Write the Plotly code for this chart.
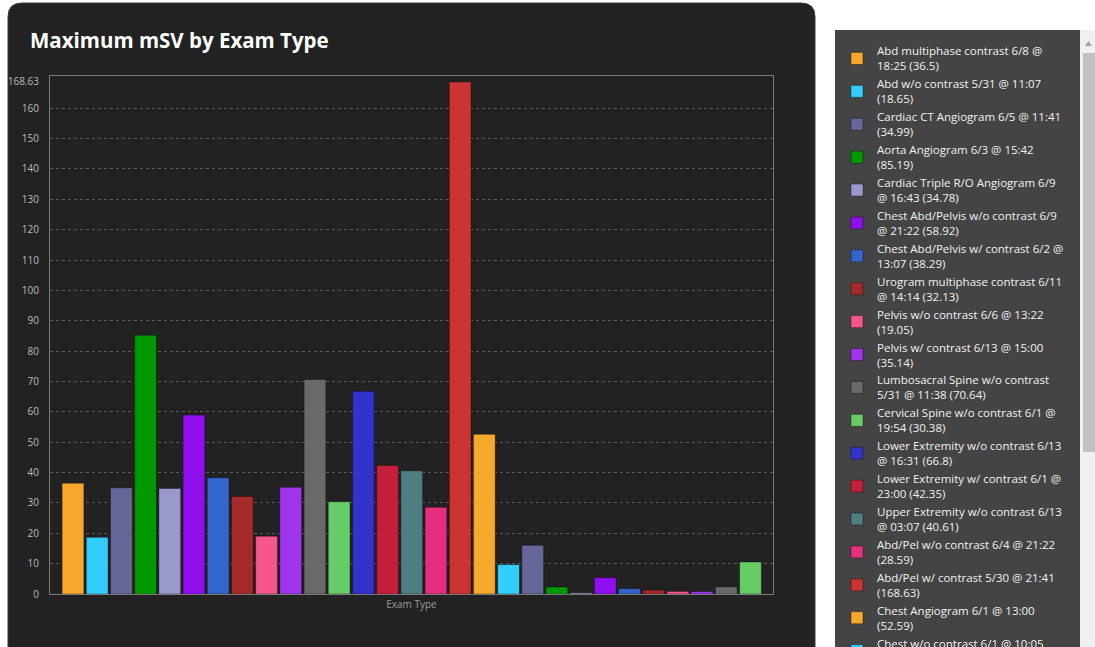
import plotly.graph_objects as go

# ---------------- data ----------------
exam_labels = [
    "Abd multiphase contrast 6/8 @ 18:25",
    "Abd w/o contrast 5/31 @ 11:07",
    "Cardiac CT Angiogram 6/5 @ 11:41",
    "Aorta Angiogram 6/3 @ 15:42",
    "Cardiac Triple R/O Angiogram 6/9 @ 16:43",
    "Chest Abd/Pelvis w/o contrast 6/9 @ 21:22",
    "Chest Abd/Pelvis w/ contrast 6/2 @ 13:07",
    "Urogram multiphase contrast 6/11 @ 14:14",
    "Pelvis w/o contrast 6/6 @ 13:22",
    "Pelvis w/ contrast 6/13 @ 15:00",
    "Lumbosacral Spine w/o contrast 5/31 @ 11:38",
    "Cervical Spine w/o contrast 6/1 @ 19:54",
    "Lower Extremity w/o contrast 6/13 @ 16:31",
    "Lower Extremity w/ contrast 6/1 @ 23:00",
    "Upper Extremity w/o contrast 6/13 @ 03:07",
    "Abd/Pel w/o contrast 6/4 @ 21:22",
    "Abd/Pel w/ contrast 5/30 @ 21:41",
    "Chest Angiogram 6/1 @ 13:00",
    "Chest w/o contrast 6/1 @ 10:05",
    "Chest w/ contrast 6/12 @ 09:14",
    "Head w/o contrast 6/2 @ 08:30",
    "Sinus w/o contrast 6/7 @ 10:12",
    "Head w/ contrast 6/10 @ 14:48",
    "Neck w/o contrast 6/4 @ 16:05",
    "Neck w/ contrast 6/11 @ 11:20",
    "Orbits w/o contrast 6/8 @ 09:02",
    "Temporal Bones w/o contrast 6/3 @ 12:40",
    "Thoracic Spine w/o contrast 6/6 @ 17:15",
    "Chest Low Dose Screening 6/12 @ 15:33",
]
values = [36.5, 18.65, 34.99, 85.19, 34.78, 58.92, 38.29, 32.13, 19.05, 35.14,
          70.64, 30.38, 66.8, 42.35, 40.61, 28.59, 168.63, 52.59,
          9.7, 16.05, 2.3, 0.4, 5.4, 1.75, 1.3, 0.85, 0.8, 2.35, 10.55]
# number of words on the first line of each wrapped legend label
wrap_words = [5, 6, 6, 5, 5, 5, 6, 4, 6, 6, 4, 6, 5, 6, 5, 6, 6, 5, 6,
              6, 6, 6, 6, 6, 6, 6, 5, 5, 5]
colors = ["#F5A82B", "#33CCFF", "#666699", "#009900", "#9999CC", "#8F10EC",
          "#3366CC", "#A52A2A", "#F5578A", "#A035EE", "#6A6A6A", "#66CC66",
          "#3333CC", "#C41F3B", "#4E7D82", "#E52E7D", "#CC3333", "#F5A82B",
          "#33CCFF", "#666699", "#009900", "#9999CC", "#8F10EC", "#3366CC",
          "#A52A2A", "#F5578A", "#A035EE", "#6A6A6A", "#66CC66"]
y_ticks = [0, 10, 20, 30, 40, 50, 60, 70, 80, 90, 100, 110, 120, 130, 140, 150, 160]
y_max_label = 168.63

# ---------------- layout geometry ----------------
W, H = 1095, 647
L, R, T, B = 50, 773, 76, 594


def px(x):
    return (x - L) / (R - L)


def py(y):
    return (B - y) / (B - T)


def wrap(text, n):
    words = text.split(" ")
    return " ".join(words[:n]) + "<br>" + " ".join(words[n:])


fig = go.Figure()
for i, (lab, v, c, n) in enumerate(zip(exam_labels, values, colors, wrap_words)):
    fig.add_trace(go.Bar(
        x=[i], y=[v], width=0.9, name=wrap(f"{lab} ({v})", n),
        marker=dict(color=c, line=dict(color="rgba(0,0,0,0.35)", width=1)),
        hovertemplate=f"{lab}: %{{y}}<extra></extra>",
    ))

# invisible trace to carry the top tick label on an overlaying axis
fig.add_trace(go.Scatter(x=[0], y=[0], yaxis="y2", mode="markers",
                         marker=dict(opacity=0), showlegend=False, hoverinfo="skip"))

# card background (rounded rectangle)
x0, x1, y0, y1, r = 8, 815, 3, 680, 14
card = (f"M {px(x0 + r)},{py(y0)} L {px(x1 - r)},{py(y0)} "
        f"Q {px(x1)},{py(y0)} {px(x1)},{py(y0 + r)} L {px(x1)},{py(y1)} "
        f"L {px(x0)},{py(y1)} L {px(x0)},{py(y0 + r)} "
        f"Q {px(x0)},{py(y0)} {px(x0 + r)},{py(y0)} Z")
shapes = [
    dict(type="path", path=card, xref="paper", yref="paper", layer="below",
         fillcolor="#222222", line=dict(color="#3a3a3a", width=1)),
    # legend panel
    dict(type="rect", xref="paper", yref="paper", layer="below",
         x0=px(835), x1=px(1080), y0=py(30), y1=py(700),
         fillcolor="#444444", line=dict(width=0)),
    # scrollbar track
    dict(type="rect", xref="paper", yref="paper", layer="below",
         x0=px(1080), x1=px(1096), y0=py(30), y1=py(700),
         fillcolor="#F0F0F0", line=dict(width=0)),
    # scrollbar thumb
    dict(type="rect", xref="paper", yref="paper", layer="below",
         x0=px(1083), x1=px(1095), y0=py(53), y1=py(452),
         fillcolor="#C1C1C1", line=dict(width=0)),
    # up arrow
    dict(type="path", xref="paper", yref="paper", layer="below",
         path=f"M {px(1085)},{py(46)} L {px(1092)},{py(46)} L {px(1088.5)},{py(41)} Z",
         fillcolor="#A3A3A3", line=dict(width=0)),
]

fig.update_layout(
    width=W, height=H,
    margin=dict(l=L, r=W - R, t=T, b=H - B, autoexpand=False),
    paper_bgcolor="white", plot_bgcolor="rgba(0,0,0,0)",
    barmode="overlay",
    font=dict(family="Open Sans, sans-serif"),
    title=dict(text="<b>Maximum mSV by Exam Type</b>", xref="container", yref="container",
               x=30 / W, xanchor="left", y=1 - 41 / H, yanchor="middle",
               font=dict(size=20.5, color="white", family="Open Sans, sans-serif")),
    xaxis=dict(range=[-0.95, 28.93], showticklabels=False, ticks="", showgrid=False,
               zeroline=False, showline=True, linecolor="#7a7a7a", linewidth=1, mirror=True,
               title=dict(text="Exam Type", standoff=6, font=dict(size=10, color="#9a9a9a")),
               automargin=False),
    yaxis=dict(range=[0, 170.6], tickvals=y_ticks, ticktext=[str(t) for t in y_ticks],
               showgrid=True, gridcolor="#5c5c5c", griddash="dot", gridwidth=1,
               zeroline=False, showline=True, linecolor="#7a7a7a", linewidth=1, mirror=True,
               ticks="outside", ticklen=8, tickcolor="rgba(0,0,0,0)",
               tickfont=dict(size=10, color="#bbbbbb"), automargin=False),
    yaxis2=dict(range=[0, 170.6], overlaying="y", side="left", tickvals=[y_max_label],
                ticktext=[str(y_max_label)], showgrid=False, zeroline=False, showline=False,
                ticks="outside", ticklen=8, tickcolor="rgba(0,0,0,0)",
                tickfont=dict(size=10, color="#bbbbbb"), automargin=False),
    legend=dict(x=px(837), xanchor="left", y=py(37), yanchor="top",
                bgcolor="rgba(0,0,0,0)", borderwidth=0, maxheight=3000,
                font=dict(size=11.5, color="#f2f2f2", family="Open Sans, sans-serif"),
                traceorder="normal", valign="middle"),
    shapes=shapes,
    showlegend=True,
)

fig.write_html("out.html", config={"displayModeBar": False},
               post_script="document.body.style.margin='0';document.body.style.overflow='hidden';")
